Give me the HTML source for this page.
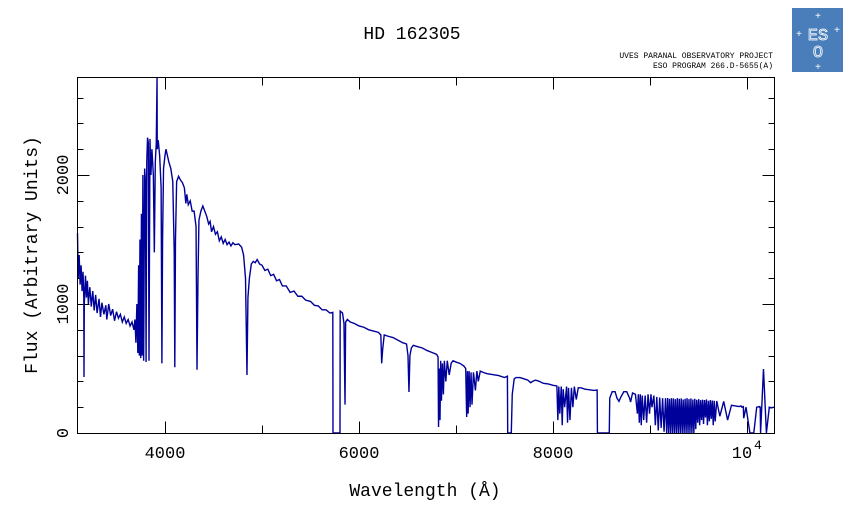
<!DOCTYPE html>
<html><head><meta charset="utf-8"><style>
body{margin:0;background:#fff;width:851px;height:511px;overflow:hidden}
svg{display:block}
text{font-family:"Liberation Mono",monospace;fill:#000}
</style></head><body>
<svg id="chart" width="851" height="511" xmlns="http://www.w3.org/2000/svg">
<text x="412" y="39" font-size="18" text-anchor="middle">HD 162305</text>
<text x="773" y="58" font-size="8" text-anchor="end" font-family="Liberation Serif">UVES PARANAL OBSERVATORY PROJECT</text>
<text x="773" y="68" font-size="8" text-anchor="end" font-family="Liberation Serif">ESO PROGRAM 266.D-5655(A)</text>
<g>
<rect x="792" y="8" width="51" height="64" fill="#4a7ebb"/>
<text x="818" y="40" font-size="17" text-anchor="middle" font-family="Liberation Serif" style="fill:none;stroke:#fff;stroke-width:0.8">ES</text>
<text x="818" y="57" font-size="17" text-anchor="middle" font-family="Liberation Serif" style="fill:none;stroke:#fff;stroke-width:0.8">O</text>
<text x="818" y="19" font-size="10" text-anchor="middle" style="fill:#fff">+</text>
<text x="799" y="37" font-size="10" text-anchor="middle" style="fill:#fff">+</text>
<text x="837" y="33" font-size="10" text-anchor="middle" style="fill:#fff">+</text>
<text x="818" y="70" font-size="10" text-anchor="middle" style="fill:#fff">+</text>
</g>
<g id="ticks"></g>
<path id="spec" fill="none" stroke="#00009a" stroke-width="1.4" stroke-linejoin="miter"/>
<rect x="77.5" y="77.5" width="697" height="356" fill="none" stroke="#000" stroke-width="1"/>
<text x="425" y="496" font-size="18" text-anchor="middle">Wavelength (Å)</text>
<text transform="translate(37,255) rotate(-90)" font-size="18" text-anchor="middle">Flux (Arbitrary Units)</text>
<g id="labels"></g>
</svg>
<script>
const xTicks=[4000,6000,8000,10000];
const xTickLabels=["4000","6000","8000","10"];
const yTicks=[0,1000,2000];
const yTickLabels=["0","1000","2000"];
const wave=[3096,3105,3115,3125,3135,3145,3155,3163,3165,3168,3180,3190,3200,3210,3225,3240,3255,3270,3285,3300,3320,3335,3350,3370,3390,3400,3420,3440,3460,3480,3500,3520,3540,3560,3580,3600,3620,3640,3660,3680,3690,3700,3710,3720,3728,3735,3742,3750,3757,3765,3772,3780,3790,3798,3805,3812,3820,3828,3835,3845,3855,3865,3880,3890,3900,3910,3918,3920,3930,3945,3960,3968,3975,3985,4000,4010,4025,4040,4060,4080,4095,4101,4108,4120,4140,4160,4180,4200,4215,4225,4240,4260,4280,4300,4320,4330,4340,4350,4370,4390,4410,4430,4450,4465,4480,4500,4520,4540,4560,4580,4600,4620,4640,4660,4680,4700,4720,4760,4790,4810,4830,4845,4855,4870,4890,4910,4930,4950,4975,5000,5030,5060,5090,5120,5150,5180,5210,5250,5290,5330,5370,5410,5450,5500,5540,5580,5620,5660,5700,5730,5732,5804,5806,5830,5845,5856,5862,5880,5910,5950,6000,6050,6100,6150,6200,6225,6234,6243,6260,6300,6350,6400,6450,6490,6505,6515,6525,6540,6560,6600,6650,6700,6750,6800,6815,6820,6828,6835,6842,6850,6860,6870,6880,6895,6910,6930,6950,6970,7000,7040,7080,7100,7110,7118,7125,7135,7145,7155,7165,7180,7200,7215,7230,7250,7280,7320,7360,7400,7440,7500,7530,7533,7570,7580,7600,7620,7660,7700,7740,7770,7790,7820,7860,7900,7950,8000,8040,8050,8060,8070,8085,8095,8105,8120,8140,8150,8160,8175,8190,8205,8220,8240,8260,8290,8330,8380,8420,8455,8458,8580,8585,8610,8640,8660,8680,8700,8730,8760,8790,8800,8820,8850,8870,8880,8890,8900,8910,8920,8935,8950,8965,8980,8995,9010,9020,9040,9055,9070,9085,9100,9115,9130,9145,9160,9172,9182,9192,9202,9212,9222,9232,9242,9252,9262,9272,9282,9292,9302,9312,9322,9332,9342,9352,9362,9372,9382,9392,9402,9412,9422,9432,9442,9452,9462,9472,9482,9492,9502,9512,9522,9532,9542,9552,9562,9572,9582,9592,9602,9612,9622,9632,9642,9652,9662,9672,9688,9720,9760,9800,9840,9880,9920,9938,9948,9960,9962,9966,9990,10030,10070,10100,10130,10133,10134,10136,10140,10170,10200,10230,10250,10278];
const flux=[1550,1200,1380,1150,1300,1100,1250,1050,434,1000,1220,1050,1180,1000,1130,980,1100,950,1070,930,1040,900,1010,920,990,880,1000,910,960,870,940,890,920,860,900,850,880,830,860,800,880,700,1000,620,1300,600,1500,580,1700,600,2000,560,2050,1950,550,2100,2290,2250,560,2280,2000,2200,2000,1400,2100,2250,2760,2200,2270,2150,1900,540,1500,2050,2150,2200,2150,2100,2050,1950,1400,510,1500,1950,1990,1960,1940,1900,1780,1850,1770,1800,1720,1720,1600,490,1200,1650,1720,1760,1720,1680,1620,1640,1560,1600,1540,1560,1490,1520,1470,1500,1460,1480,1450,1475,1460,1465,1440,1380,1200,450,1050,1200,1310,1330,1320,1345,1310,1300,1260,1270,1220,1230,1180,1190,1140,1140,1090,1100,1060,1060,1030,1020,990,985,955,955,930,935,0,0,945,930,850,220,860,880,860,850,830,820,800,790,780,760,540,640,760,750,740,720,700,690,600,318,600,660,680,670,660,640,625,610,590,47,500,100,560,250,540,300,560,400,560,450,540,560,550,540,520,500,124,480,150,480,200,470,220,470,330,480,400,480,470,460,455,450,445,430,440,0,0,300,420,430,430,420,410,390,400,410,400,385,380,370,365,100,360,150,360,60,340,200,360,80,350,100,350,200,360,260,350,350,340,335,330,333,0,0,270,320,320,270,245,280,320,320,270,240,310,300,150,300,80,300,60,290,100,290,80,300,150,300,200,290,60,280,20,275,40,270,10,270,0,271,0,265,0,270,0,268,0,262,0,270,0,265,0,268,0,260,0,265,0,270,0,262,0,268,0,260,0,265,30,258,80,262,60,255,100,258,70,256,120,260,60,250,90,255,110,252,60,250,90,248,130,245,100,215,210,205,210,200,205,210,114,200,0,0,200,205,195,200,205,0,496,0,200,195,200,190,200,195];

const X=w=>165+(w-4000)*0.097;
const Y=f=>433-f*0.129;
const x0=77.5,x1=774.5,y0=77.5,y1=433.5;

const sp=document.getElementById('spec');
let d='';
for(let i=0;i<wave.length;i++){
  const px=Math.max(x0,Math.min(x1,X(wave[i])));
  const py=Math.max(y0,Math.min(y1,Y(flux[i])));
  d+=(i?'L':'M')+px.toFixed(2)+' '+py.toFixed(2);
}
sp.setAttribute('d',d);

const NS='http://www.w3.org/2000/svg';
const tg=document.getElementById('ticks');
const lg=document.getElementById('labels');
function line(x1_,y1_,x2_,y2_){
  const l=document.createElementNS(NS,'line');
  l.setAttribute('x1',x1_);l.setAttribute('y1',y1_);l.setAttribute('x2',x2_);l.setAttribute('y2',y2_);
  l.setAttribute('stroke','#000');l.setAttribute('stroke-width','1');
  
  
  tg.appendChild(l);
}
for(let w=4000;w<=10000;w+=1000){
  const px=Math.round(X(w))+0.5;
  const len=(w%2000===0)?12:8;
  line(px,y1,px,y1-len);line(px,y0,px,y0+len);
}
for(let f=0;f<=2600;f+=200){
  const py=Math.round(Y(f))+0.5;
  const len=(f%1000===0)?12:6;
  line(x0,py,x0+len,py);line(x1,py,x1-len,py);
}
xTicks.forEach((w,i)=>{
  const t=document.createElementNS(NS,'text');
  t.setAttribute('x',X(w)-(w===10000?5:0));t.setAttribute('y',458);
  t.setAttribute('font-size','17');t.setAttribute('text-anchor','middle');
  t.textContent=xTickLabels[i];
  
  
  lg.appendChild(t);
  if(w===10000){
    const s=document.createElementNS(NS,'text');
    s.setAttribute('x',X(w)+7);s.setAttribute('y',449);s.setAttribute('font-size','13');
    s.textContent='4';
    
    
    lg.appendChild(s);
  }
});
yTicks.forEach((f,i)=>{
  const t=document.createElementNS(NS,'text');
  t.setAttribute('transform','translate(68,'+Y(f)+') rotate(-90)');
  t.setAttribute('font-size','17');t.setAttribute('text-anchor','middle');
  t.textContent=yTickLabels[i];
  
  
  lg.appendChild(t);
});
</script>
</body></html>
